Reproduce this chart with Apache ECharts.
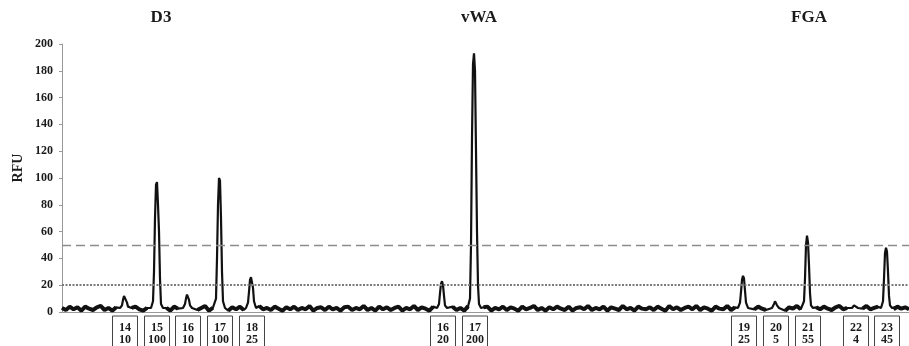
<!DOCTYPE html>
<html><head><meta charset="utf-8">
<script src="https://cdn.jsdelivr.net/npm/echarts@6/dist/echarts.min.js"></script>
<style>html,body{margin:0;padding:0;background:#fff}#c{width:909px;height:346px}</style>
</head><body><div id="c"></div>
<script>
// Locus titles
var loci = ['D3', 'vWA', 'FGA'];
var yTicks = [0, 20, 40, 60, 80, 100, 120, 140, 160, 180, 200];
// Alleles (x = scan position along the trace)
var alleleNames   = ['14','15','16','17','18','16','17','19','20','21','22','23'];
var alleleHeights = ['10','100','10','100','25','20','200','25','5','55','4','45'];
var alleleX       = [63, 95, 126, 158, 190, 381, 413, 682, 714, 746, 794, 825];
// Thresholds
var dashedThreshold = 50;
var dottedThreshold = 20;
// Baseline noise (RFU), evenly spaced along the scan
var noise = [
3,1.5,4,2,3.5,1,4,2.5,1.5,3.5,4.5,1.5,3,1,3.5,2,4,1.5,3,4,
2,1,3,4.5,1.5,3.5,2,3,1,4,2.5,1.5,4,2,3.5,1.5,3,4.5,1,3,
1.5,4,2.5,1,3.5,2,4,1.5,3,3.5,1,4.5,2,3,1.5,4,2.5,1,3.5,2,
4,1.5,3,2,4.5,1,3,3.5,1.5,4,2,3,1,3.5,4,1.5,3,2,4.5,1.5,
3,1,4,2,3.5,1.5,3,4,1,3,2,4.5,1.5,3.5,2.5,1,4,2,3,1.5,
3.5,4,1.5,3,1,4.5,2,3,1.5,3.5,4,1,3,2,4,1.5,3.5,2.5,1,4,
2,3,4.5,1.5,3,1,3.5,2,4,2.5,1.5,4,1,3,3.5,2,4.5,1.5,3,2,
4,1,3.5,2.5,1.5,4.5,2,3,1,4,2.5,2,3.5,1.5,4,2.5,1,4.5,2,3.5,
1.5,3,4,2,4.5,1.5,3.5,2.5,1,4,2.5,2,4.5,1.5,3.5,2.5,4,1.5,3.5,2,
4,2.5,1.5,4.5,2.5,2,4,1,3.5,2.5,4.5,2,3,4,1.5,3.5,2,4,2.5,1.5,
3.5,4.5,2,3,4,1.5,3.5,2.5,4.5,2,3,4,1.5,3.5,2.5,2,4,2.5,3.5,2
];
// Peak profiles: [position, RFU]
var peakTrace = [
[58,3],[60,5],[61,9],[62,12],[63,13],[64,11],[65,7],[66,4],[68,3],
[89,3],[91,8],[92,30],[93,70],[94,95],[95,97],[96,80],[97,60],[98,25],[99,6],[101,3],
[121,3],[123,6],[124,10],[125,13],[126,12],[127,9],[128,5],[130,3],
[152,3],[154,10],[155,40],[156,80],[157,100],[158,98],[159,70],[160,30],[161,8],[163,3],
[184,3],[186,7],[187,15],[188,24],[189,26],[190,25],[191,18],[192,8],[194,3],
[375,3],[377,6],[378,14],[379,21],[380,23],[381,20],[382,12],[383,5],[385,3],
[406,3],[408,10],[409,50],[410,130],[411,185],[412,193],[413,180],[414,120],[415,60],[416,20],[417,6],[419,3],
[676,3],[678,7],[679,15],[680,24],[681,27],[682,25],[683,16],[684,7],[686,3],
[710,3],[712,6],[713,8],[714,7],[715,5],[717,3],
[740,3],[742,8],[743,25],[744,50],[745,57],[746,52],[747,35],[748,14],[749,5],[751,3],
[790,3],[792,5],[793,6],[794,5],[796,3],
[819,3],[821,8],[822,25],[823,44],[824,48],[825,45],[826,30],[827,12],[828,5],[830,3]
];
var xMax = 847;

// Build trace: baseline samples outside peak windows + peak profiles
var step = xMax / (noise.length - 1);
var trace = [];
var baseOnly = [];
noise.forEach(function (v, i) {
  var x = i * step;
  var inPeak = alleleX.some(function (p) { return Math.abs(x - p) < 6.5; });
  if (!inPeak) { trace.push([x, v]); baseOnly.push([x, v]); }
  else if (baseOnly.length && baseOnly[baseOnly.length - 1][1] !== null) { baseOnly.push([x, null]); }
});
trace = trace.concat(peakTrace).sort(function (a, b) { return a[0] - b[0]; });

var boxData = alleleX.map(function (x, i) { return [x, alleleNames[i], alleleHeights[i]]; });

var chart = echarts.init(document.getElementById('c'));
var serif = '"Liberation Serif", "DejaVu Serif", serif';
var titleX = [161, 479, 809];
chart.setOption({
  animation: false,
  backgroundColor: '#fff',
  grid: { left: 62, right: 0, top: 44, bottom: 34 },
  graphic: loci.map(function (t, i) {
    return { type: 'text', x: titleX[i], y: 18,
      style: { text: t, font: 'bold 17px ' + serif, fill: '#1a1a1a', align: 'center', verticalAlign: 'middle' } };
  }).concat([
    { type: 'text', x: 18, y: 168, rotation: Math.PI / 2,
      style: { text: 'RFU', font: 'bold 14px ' + serif, fill: '#1a1a1a', align: 'center', verticalAlign: 'middle' } }
  ]),
  xAxis: {
    type: 'value', min: 0, max: xMax,
    axisLine: { show: true, lineStyle: { color: '#999' } },
    axisTick: { show: false }, axisLabel: { show: false }, splitLine: { show: false }
  },
  yAxis: {
    type: 'value', min: yTicks[0], max: yTicks[yTicks.length - 1], interval: 20,
    axisLine: { show: true, lineStyle: { color: '#999' } },
    axisTick: { show: true, length: 3, lineStyle: { color: '#999' } },
    axisLabel: { fontFamily: serif, fontWeight: 'bold', fontSize: 12, color: '#1a1a1a', margin: 9 },
    splitLine: { show: false }
  },
  series: [
    {
      type: 'line', data: trace, symbol: 'none', silent: true, sampling: null,
      lineStyle: { color: '#111', width: 2.2 },
      markLine: {
        silent: true, symbol: 'none', label: { show: false },
        data: [
          { yAxis: dashedThreshold, lineStyle: { color: '#8c8c8c', type: [9, 5], width: 1.4 } },
          { yAxis: dottedThreshold, lineStyle: { color: '#7a7a7a', type: [2, 1.5], width: 1.8 } }
        ]
      },
      z: 3
    },
    {
      type: 'line', data: baseOnly, symbol: 'none', silent: true, connectNulls: false,
      lineStyle: { color: '#111', width: 4 }, z: 3
    },
    {
      type: 'custom', data: boxData, clip: false, silent: true,
      renderItem: function (params, api) {
        var p = api.coord([api.value(0), 0]);
        var w = 25;
        return {
          type: 'group',
          children: [
            { type: 'rect', shape: { x: p[0] - w / 2, y: p[1] + 4, width: w, height: 40 },
              style: { fill: '#fff', stroke: '#444', lineWidth: 1 } },
            { type: 'text', style: { text: api.value(1), x: p[0], y: p[1] + 16, align: 'center', verticalAlign: 'middle',
              font: 'bold 12px ' + serif, fill: '#1a1a1a' } },
            { type: 'text', style: { text: api.value(2), x: p[0], y: p[1] + 28, align: 'center', verticalAlign: 'middle',
              font: 'bold 12px ' + serif, fill: '#1a1a1a' } }
          ]
        };
      }
    }
  ]
});
</script>
</body></html>
